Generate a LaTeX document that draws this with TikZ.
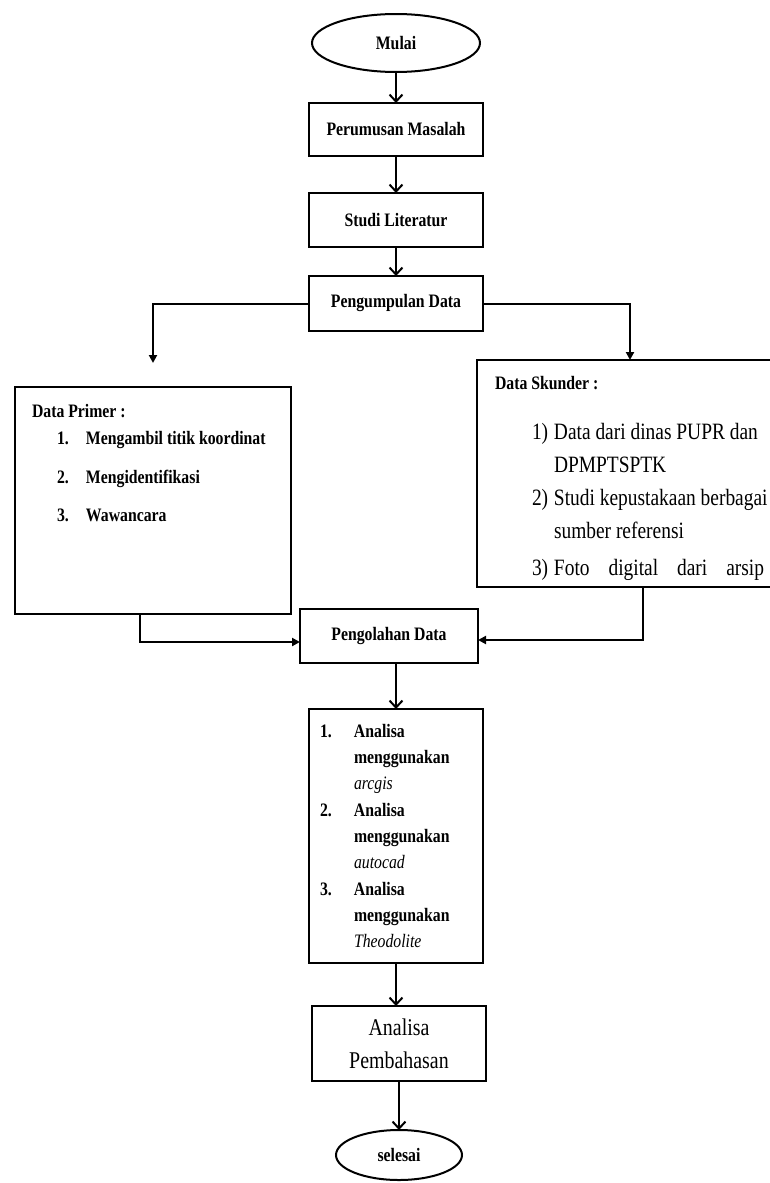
\documentclass[tikz,border=0pt]{standalone}
\usepackage{fontspec}
\setmainfont{Liberation Serif}[FakeStretch=0.83]
\usetikzlibrary{positioning, arrows.meta, shapes.geometric}

\newcommand{\hurufkecil}{\fontsize{19}{26}\selectfont\bfseries}
\newcommand{\hurufbesar}{\fontsize{23.4}{33}\selectfont}

\begin{document}
\begin{tikzpicture}[
    x=1pt, y=-1pt,
    ->, >={Straight Barb[length=7pt,width=13pt]},
    line width=2pt,
    terminal/.style={ellipse, draw, minimum width=168pt, minimum height=58pt, inner sep=0pt, outer sep=0pt, font=\hurufkecil},
    proses/.style={rectangle, draw, minimum width=174pt, minimum height=54pt, inner sep=0pt, outer sep=0pt, font=\hurufkecil},
    isian/.style={inner sep=0pt, align=left, anchor=north west},
    fillarrow/.style={-{Triangle[length=8pt,width=8pt]}}
]
    \useasboundingbox (0,0) rectangle (770,1183);

    % kolom utama
    \node[terminal] (mulai) at (396,43) {Mulai};
    \node[proses, minimum height=53pt, below=31pt of mulai] (perumusan) {Perumusan Masalah};
    \node[proses, below=37pt of perumusan] (studi) {Studi Literatur};
    \node[proses, minimum height=55pt, below=29pt of studi] (pengumpulan) {Pengumpulan Data};

    % data primer dan sekunder
    \node[proses, minimum width=276pt, minimum height=227pt, below left=56pt and 18pt of pengumpulan] (primer) {};
    \node[proses, minimum width=306pt, minimum height=227pt, below right=29pt and -6pt of pengumpulan] (skunder) {};

    \node[isian, font=\fontsize{19}{27}\selectfont\bfseries] (primerisi) at ([xshift=16pt,yshift=-16pt]primer.north west)
        {Data Primer :\\
         \hspace*{25pt}\makebox[29pt][l]{1.}Mengambil titik koordinat\\[12pt]
         \hspace*{25pt}\makebox[29pt][l]{2.}Mengidentifikasi\\[11pt]
         \hspace*{25pt}\makebox[29pt][l]{3.}Wawancara};

    \node[isian, font=\hurufkecil] (skunderjudul) at ([xshift=17pt,yshift=-15pt]skunder.north west) {Data Skunder :};
    \node[isian, font=\hurufbesar] (skunderisi) at ([xshift=37pt,yshift=-32pt]skunderjudul.south west)
        {\makebox[22pt][l]{1)}Data dari dinas PUPR dan\\
         \hspace*{22pt}DPMPTSPTK\\
         \makebox[22pt][l]{2)}Studi kepustakaan berbagai\\
         \hspace*{22pt}sumber referensi\\[4pt]
         \makebox[22pt][l]{3)}\makebox[210pt][s]{Foto digital dari arsip}};

    % pengolahan dan analisa
    \node[proses, minimum width=178pt, below=278pt of pengumpulan, xshift=-7pt] (pengolahan) {Pengolahan Data};
    \node[proses, minimum height=254pt, text width=152pt, inner xsep=11pt, align=left,
          font=\fontsize{19}{26.3}\selectfont\bfseries, below=46pt of pengolahan, xshift=7pt] (analisa)
        {\makebox[34pt][l]{1.}Analisa\\
         \hspace*{34pt}menggunakan\\
         \hspace*{34pt}\textit{\mdseries arcgis}\\
         \makebox[34pt][l]{2.}Analisa\\
         \hspace*{34pt}menggunakan\\
         \hspace*{34pt}\textit{\mdseries autocad}\\
         \makebox[34pt][l]{3.}Analisa\\
         \hspace*{34pt}menggunakan\\
         \hspace*{34pt}\textit{\mdseries Theodolite}};
    \node[proses, minimum height=75pt, align=center, font=\fontsize{24}{33}\selectfont,
          below=43pt of analisa, xshift=3pt] (pembahasan) {Analisa\\Pembahasan};
    \node[terminal, minimum width=126pt, minimum height=50pt, below=49pt of pembahasan] (selesai) {selesai};

    % panah
    \draw (mulai) -- (perumusan);
    \draw (perumusan) -- (studi);
    \draw (studi) -- (pengumpulan);
    \draw[fillarrow] (pengumpulan.west) -| ([yshift=24pt]primer.north);
    \draw[fillarrow] (pengumpulan.east) -| (skunder.north);
    \draw[fillarrow] ([xshift=-13pt]primer.south) |- ([yshift=-6pt]pengolahan.west);
    \draw[fillarrow] ([xshift=13pt]skunder.south) |- ([yshift=-4pt]pengolahan.east);
    \draw (pengolahan.south -| analisa) -- (analisa.north);
    \draw (analisa) -- (analisa |- pembahasan.north);
    \draw (pembahasan) -- (selesai);
\end{tikzpicture}
\end{document}
